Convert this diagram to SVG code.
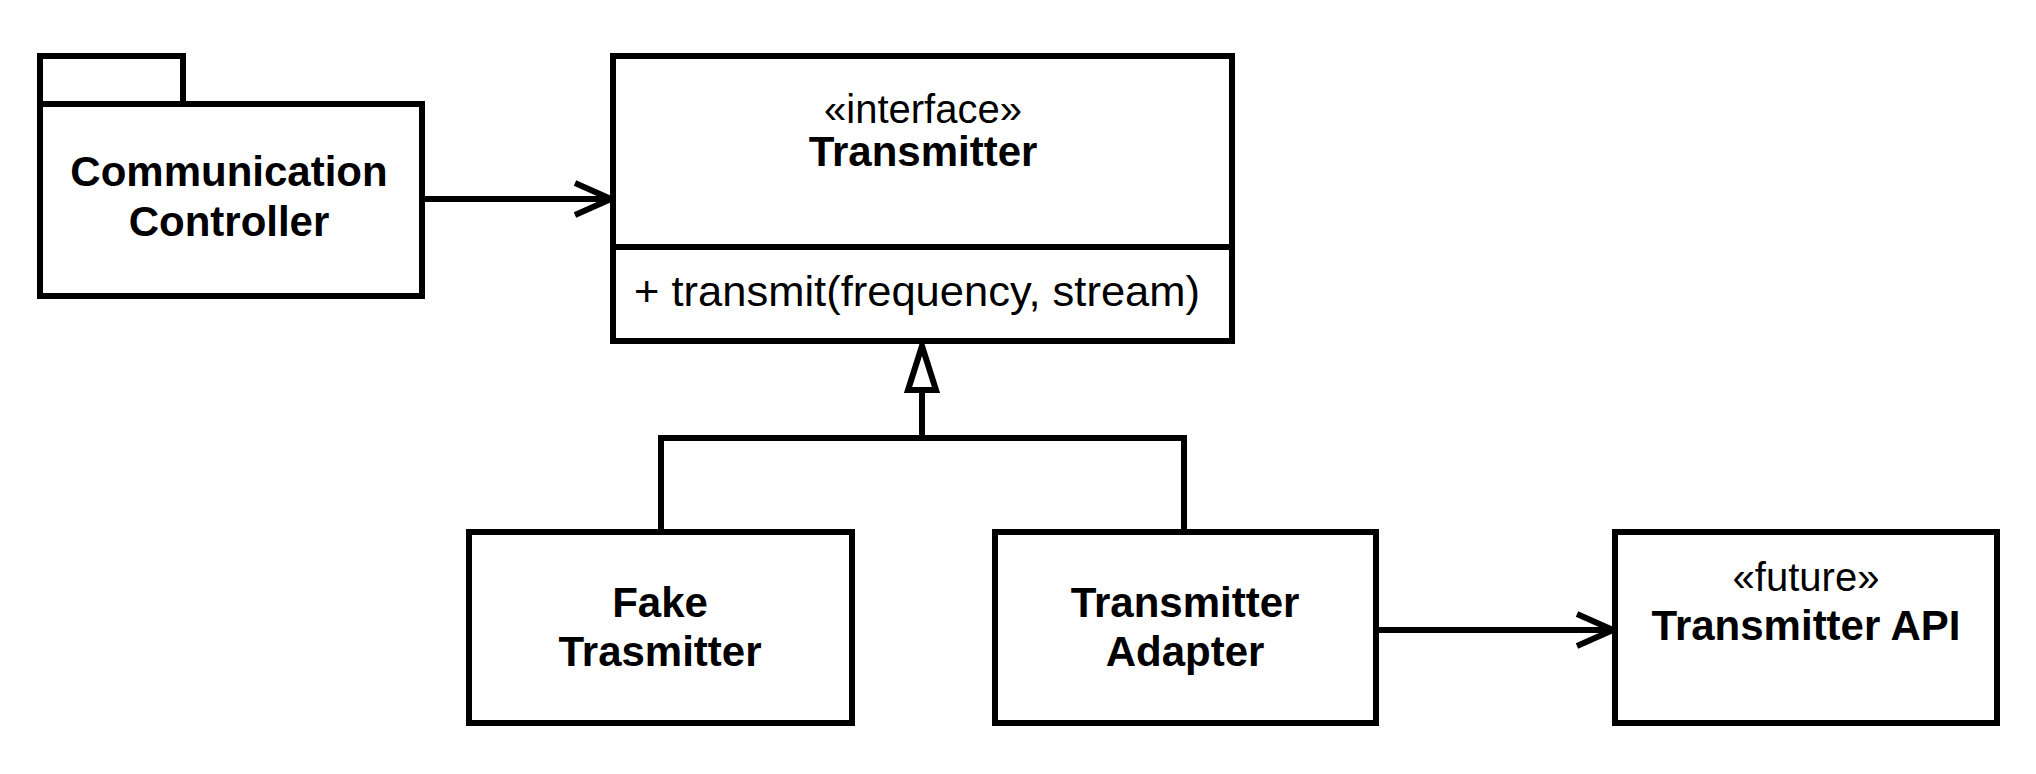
<svg xmlns="http://www.w3.org/2000/svg" width="2036" height="774" viewBox="0 0 2036 774">
<defs>
<style>
.box{fill:#fff;stroke:#000;stroke-width:6;stroke-linejoin:miter}
.ln{fill:none;stroke:#000;stroke-width:6}
.b{font-family:"Liberation Sans",Arial,sans-serif;font-weight:bold;font-size:42px;text-anchor:middle;fill:#000}
.r{font-family:"Liberation Sans",Arial,sans-serif;font-size:40px;text-anchor:middle;fill:#000}
</style>
<marker id="open" markerUnits="userSpaceOnUse" markerWidth="44" markerHeight="40" refX="40" refY="20" orient="auto">
<path d="M4,4 L40,20 L4,36" fill="none" stroke="#000" stroke-width="6"/>
</marker>
</defs>
<g id="connectors">
<line class="ln" x1="422" y1="199" x2="611" y2="199" marker-end="url(#open)"/>
<line class="ln" x1="1376" y1="630" x2="1613" y2="630" marker-end="url(#open)"/>
<path class="ln" d="M922,390 L922,438 M661,532 L661,438 L1184,438 L1184,532"/>
<path d="M922,346 L936,390 L908,390 Z" fill="#fff" stroke="#000" stroke-width="6" stroke-linejoin="miter"/>
</g>
<g id="communication-controller">
<rect class="box" x="40" y="56" width="143" height="48"/>
<rect class="box" x="40" y="104" width="382" height="192"/>
<text class="b" x="229" y="186">Communication</text>
<text class="b" x="229" y="236">Controller</text>
</g>
<g id="transmitter">
<rect class="box" x="613" y="56" width="619" height="285"/>
<line class="ln" x1="613" y1="247" x2="1232" y2="247"/>
<text class="r" x="923" y="123">«interface»</text>
<text class="b" x="923" y="166">Transmitter</text>
<text class="r" x="634" y="306" style="text-anchor:start;font-size:42px" textLength="566" lengthAdjust="spacingAndGlyphs">+ transmit(frequency, stream)</text>
</g>
<g id="fake-transmitter">
<rect class="box" x="469" y="532" width="383" height="191"/>
<text class="b" x="660" y="617">Fake</text>
<text class="b" x="660" y="666">Trasmitter</text>
</g>
<g id="transmitter-adapter">
<rect class="box" x="995" y="532" width="381" height="191"/>
<text class="b" x="1185" y="617">Transmitter</text>
<text class="b" x="1185" y="666">Adapter</text>
</g>
<g id="transmitter-api">
<rect class="box" x="1615" y="532" width="382" height="191"/>
<text class="r" x="1806" y="591">«future»</text>
<text class="b" x="1806" y="640">Transmitter API</text>
</g>
</svg>
